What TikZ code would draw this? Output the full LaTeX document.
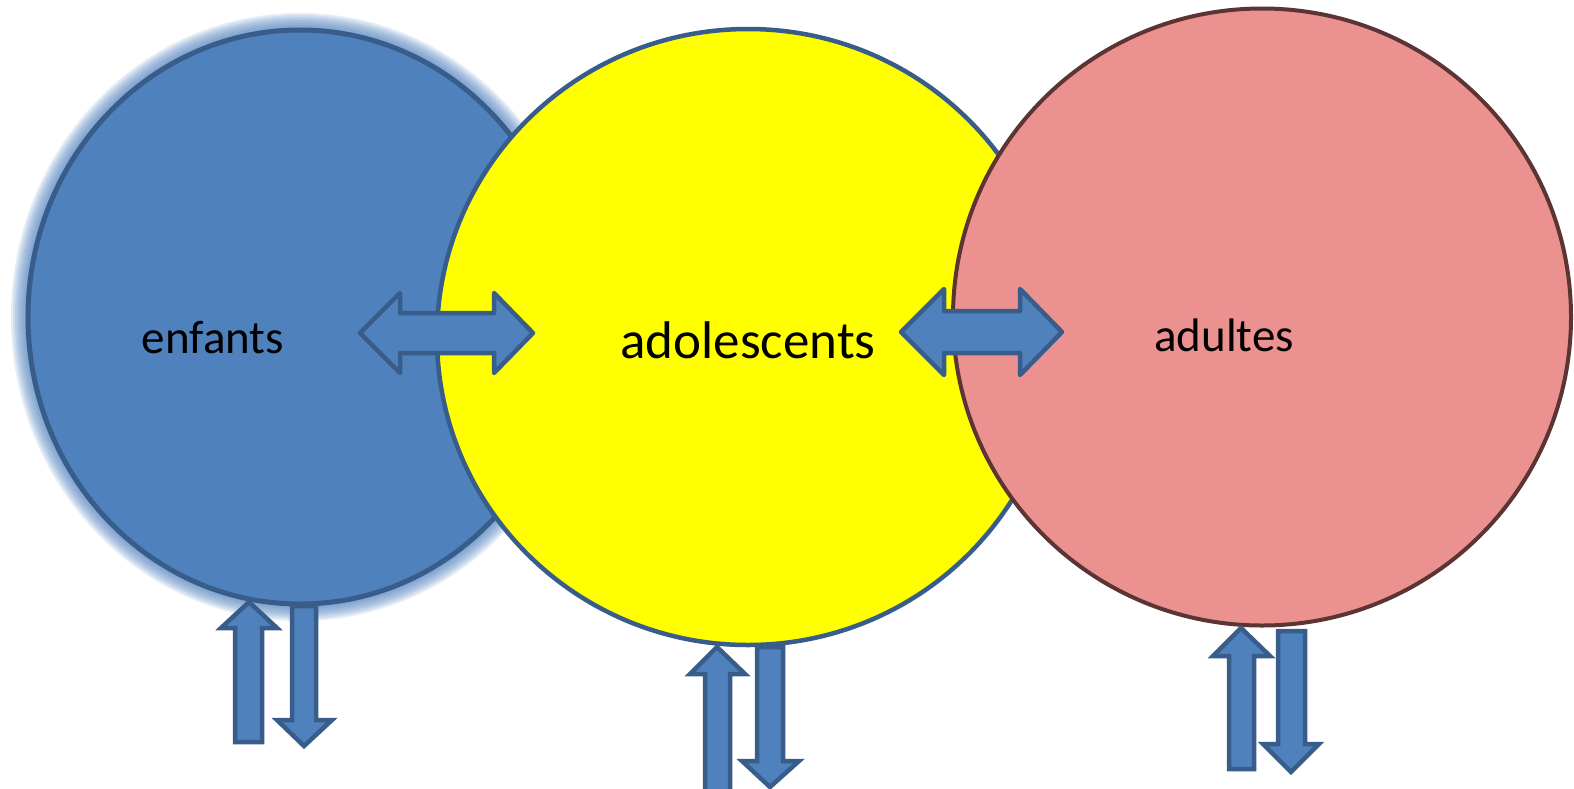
\documentclass[tikz,border=0pt]{standalone}
\usepackage{fontspec}
\setmainfont{Carlito}
\usetikzlibrary{shapes.geometric}
\definecolor{bfill}{HTML}{4F81BD}
\definecolor{bline}{HTML}{385D8A}
\definecolor{yfill}{HTML}{FFFF00}
\definecolor{pfill}{RGB}{235,146,144}
\definecolor{pline}{RGB}{92,52,52}
\tikzset{
  blob/.style={ellipse, inner sep=0pt, outer sep=0pt},
  dblarrow/.style={fill=bfill, draw=bline, line width=4.5pt, line join=round},
  vertarrow/.style={fill=bfill, draw=bline, line width=4.5pt, line join=miter},
  lbl/.style={anchor=base, inner sep=0pt, text=black},
}
\begin{document}
\begin{tikzpicture}[x=1pt, y=-1pt]
\useasboundingbox (0,0) rectangle (1574,788);
% glow of the blue ellipse
\foreach \k in {17,15,...,1}{
  \fill[bfill, opacity=0.15] (300,317) ellipse [x radius={272pt+\k pt}, y radius={287pt+\k pt}];
}
\node[blob, fill=bfill, draw=bline, line width=5pt, minimum width=544pt, minimum height=574pt] (enf) at (300,317) {};
\node[blob, fill=yfill, draw=bline, line width=4.5pt, minimum width=622pt, minimum height=616pt] (ado) at (748,337) {};
\node[blob, fill=pfill, draw=pline, line width=4pt, minimum width=618pt, minimum height=617pt] (adu) at (1262,317) {};
% horizontal double arrows
\draw[dblarrow] (360,333) -- (400,293) -- (400,313) -- (494,313) -- (494,293) -- (533,333)
  -- (494,373) -- (494,353) -- (400,353) -- (400,373) -- cycle;
\draw[dblarrow] (901,332) -- (944,289) -- (944,311) -- (1020,311) -- (1020,289) -- (1062,332)
  -- (1020,375) -- (1020,353) -- (944,353) -- (944,375) -- cycle;
% vertical arrows under enfants
\draw[vertarrow] (249,602) -- (277,628) -- (262,628) -- (262,742) -- (235,742) -- (235,628) -- (221,628) -- cycle;
\draw[vertarrow] (292,606) -- (316,606) -- (316,720) -- (332,720) -- (304,746) -- (277,720) -- (292,720) -- cycle;
% vertical arrows under adolescents
\draw[vertarrow] (717,647) -- (745,674) -- (730,674) -- (730,795) -- (705,795) -- (705,674) -- (690,674) -- cycle;
\draw[vertarrow] (757,647) -- (783,647) -- (783,761) -- (799,761) -- (770,787) -- (742,761) -- (757,761) -- cycle;
% vertical arrows under adultes
\draw[vertarrow] (1241,628) -- (1270,656) -- (1254,656) -- (1254,769) -- (1229,769) -- (1229,656) -- (1213,656) -- cycle;
\draw[vertarrow] (1278,631) -- (1305,631) -- (1305,744) -- (1319,744) -- (1291,772) -- (1263,744) -- (1278,744) -- cycle;
% labels
\node[lbl, font=\fontsize{47pt}{56pt}\selectfont] (tenf) at (213,353) {enfants};
\node[lbl, font=\fontsize{53pt}{63pt}\selectfont] (tado) at (748,358) {adolescents};
\node[lbl, font=\fontsize{47pt}{56pt}\selectfont] (tadu) at (1224,351) {adultes};
\end{tikzpicture}
\end{document}
